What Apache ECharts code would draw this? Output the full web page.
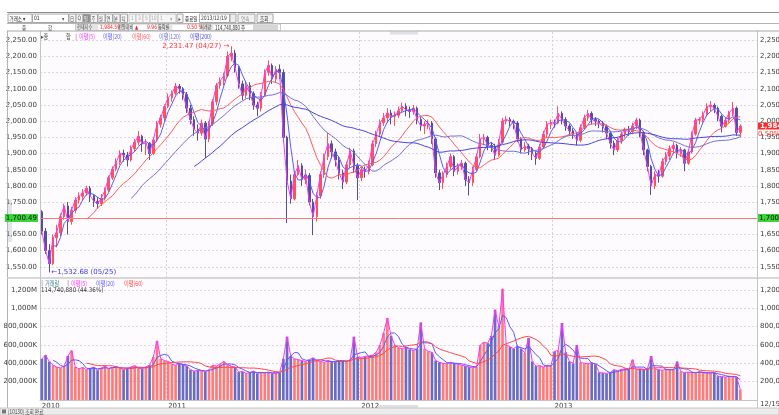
<!DOCTYPE html>
<html>
<head>
<meta charset="utf-8">
<title>KOSPI 주봉</title>
<script src="https://cdn.jsdelivr.net/npm/echarts@6/dist/echarts.min.js"></script>
<style>
  html, body { margin: 0; padding: 0; background: #fff; }
  #chart { width: 779px; height: 415px; }
</style>
</head>
<body>
<div id="chart"></div>
<script>
  // one row per week: [open, close, low, high]
  const candles = [
    [1720,1660,1650,1725],[1660,1600,1590,1670],[1600,1560,1532.68,1620],[1560,1640,1555,1650],[1640,1655,1610,1680],
    [1655,1705,1645,1715],[1705,1738,1695,1745],[1738,1690,1650,1750],[1690,1725,1680,1735],[1725,1756,1715,1765],
    [1756,1768,1745,1780],[1768,1778,1755,1790],[1778,1793,1770,1800],[1793,1770,1750,1800],[1770,1752,1735,1775],
    [1752,1745,1730,1765],[1745,1762,1738,1775],[1762,1787,1755,1795],[1787,1825,1780,1832],[1825,1852,1818,1860],
    [1852,1872,1845,1885],[1872,1901,1865,1910],[1901,1895,1875,1912],[1895,1880,1860,1905],[1880,1915,1875,1925],
    [1915,1935,1905,1945],[1935,1953,1925,1969],[1953,1930,1905,1958],[1930,1932,1895,1945],[1932,1900,1880,1935],
    [1900,1942,1895,1950],[1942,1990,1935,2000],[1990,2010,1980,2020],[2010,2045,2000,2052],[2045,2072,2040,2085],
    [2072,2086,2060,2095],[2086,2108,2080,2118],[2108,2100,2085,2115],[2100,2082,2065,2105],[2082,2040,2025,2090],
    [2040,2005,1990,2050],[2005,1975,1955,2015],[1975,1963,1940,1990],[1963,1994,1955,2005],[1994,1945,1886,2000],
    [1945,1992,1935,2000],[1992,2060,1985,2068],[2060,2110,2050,2118],[2110,2125,2100,2135],[2125,2140,2110,2150],
    [2140,2200,2135,2215],[2200,2210,2185,2231.47],[2210,2165,2150,2220],[2165,2115,2100,2170],[2115,2080,2065,2125],
    [2080,2110,2070,2125],[2110,2085,2065,2120],[2085,2050,2035,2092],[2050,2040,2015,2060],[2040,2080,2030,2090],
    [2080,2150,2075,2160],[2150,2172,2140,2188],[2172,2130,2115,2178],[2130,2160,2120,2170],[2160,2150,2130,2175],
    [2150,1950,1935,2160],[1950,1815,1685,1955],[1815,1760,1745,1835],[1760,1835,1755,1845],[1835,1862,1830,1880],
    [1862,1820,1800,1870],[1820,1832,1805,1850],[1832,1750,1740,1840],[1750,1705,1648,1760],[1705,1770,1690,1780],
    [1770,1835,1760,1845],[1835,1890,1825,1900],[1890,1930,1880,1963],[1930,1905,1885,1940],[1905,1880,1860,1915],
    [1880,1840,1820,1890],[1840,1812,1790,1850],[1812,1865,1805,1875],[1865,1908,1855,1918],[1908,1862,1840,1915],
    [1862,1825,1756,1870],[1825,1850,1815,1862],[1850,1845,1825,1860],[1845,1865,1835,1878],[1865,1930,1860,1940],
    [1930,1960,1920,1970],[1960,1995,1950,2005],[1995,2010,1985,2025],[2010,2025,1995,2040],[2025,2015,1990,2035],
    [2015,2018,1985,2030],[2018,2032,2010,2045],[2032,2046,2025,2057],[2046,2034,2015,2055],[2034,2030,2010,2045],
    [2030,2040,2020,2050],[2040,2005,1990,2045],[2005,1985,1970,2012],[1985,1990,1960,2000],[1990,1994,1975,2005],
    [1994,1945,1930,2000],[1945,1840,1825,1950],[1840,1810,1787,1850],[1810,1835,1790,1845],[1835,1860,1825,1872],
    [1860,1890,1850,1900],[1890,1845,1830,1895],[1845,1860,1835,1870],[1860,1870,1850,1880],[1870,1820,1800,1875],
    [1820,1810,1770,1830],[1810,1850,1800,1860],[1850,1890,1845,1900],[1890,1945,1885,1960],[1945,1950,1925,1960],
    [1950,1925,1910,1955],[1925,1920,1905,1935],[1920,1895,1880,1930],[1895,1935,1890,1945],[1935,2000,1930,2010],
    [2000,2005,1990,2015],[2005,2000,1985,2012],[2000,1994,1975,2005],[1994,1945,1935,2000],[1945,1911,1900,1950],
    [1911,1923,1905,1935],[1923,1915,1895,1930],[1915,1900,1880,1920],[1900,1885,1865,1905],[1885,1920,1880,1930],
    [1920,1960,1915,1970],[1960,1990,1950,2000],[1990,1995,1975,2005],[1995,1994,1980,2005],[1994,2024,1990,2046],
    [2024,2005,1990,2030],[2005,1985,1970,2012],[1985,1970,1955,1992],[1970,1960,1945,1978],[1960,1941,1925,1965],
    [1941,1980,1935,1990],[1980,2010,1975,2020],[2010,2024,2000,2035],[2024,2005,1990,2030],[2005,2000,1985,2012],
    [2000,1994,1978,2005],[1994,1984,1965,2000],[1984,1963,1945,1990],[1963,1932,1915,1970],[1932,1911,1895,1940],
    [1911,1940,1905,1950],[1940,1960,1930,1968],[1960,1972,1950,1980],[1972,1968,1955,1985],[1968,1985,1960,1995],
    [1985,2003,1975,2010],[2003,1965,1950,2008],[1965,1911,1895,1970],[1911,1860,1845,1915],[1860,1800,1772,1865],
    [1800,1835,1790,1845],[1835,1830,1810,1850],[1830,1875,1825,1885],[1875,1892,1865,1905],[1892,1915,1880,1925],
    [1915,1925,1900,1935],[1925,1901,1885,1930],[1901,1911,1890,1920],[1911,1870,1845,1915],[1870,1905,1865,1912],
    [1905,1960,1900,1968],[1960,2003,1955,2010],[2003,2005,1990,2012],[2005,2020,1995,2030],[2020,2045,2015,2055],
    [2045,2049,2030,2062],[2049,2040,2025,2055],[2040,2015,2000,2045],[2015,1984,1965,2020],[1984,2003,1980,2010],
    [2003,2025,1995,2032],[2025,2040,2015,2059],[2040,1965,1955,2045],[1965,1984.59,1950,1990]
  ];

  // 거래량 (천주)
  const volumes = [
    450000,490000,420000,380000,360000, 350000,370000,480000,540000,360000,
    340000,355000,330000,345000,360000, 325000,350000,370000,340000,355000,
    365000,350000,330000,345000,360000, 375000,350000,340000,360000,380000,
    470000,645000,450000,430000,420000, 390000,380000,400000,385000,370000,
    330000,315000,325000,320000,310000, 330000,380000,370000,395000,420000,
    385000,370000,360000,305000,310000, 290000,300000,315000,290000,300000,
    295000,305000,290000,295000,300000, 450000,690000,480000,450000,440000,
    430000,420000,440000,460000,430000, 420000,410000,430000,420000,415000,
    425000,430000,420000,440000,690000, 470000,465000,475000,480000,490000,
    520000,600000,730000,895000,700000, 600000,570000,560000,575000,550000,
    540000,555000,845000,560000,530000, 520000,430000,410000,400000,395000,
    410000,400000,390000,380000,370000, 360000,355000,360000,600000,630000,
    620000,700000,985000,800000,1213000, 600000,580000,560000,590000,560000,
    513000,677000,420000,370000,375000, 360000,380000,370000,530000,540000,
    840000,520000,420000,400000,600000, 410000,400000,395000,405000,390000,
    300000,295000,290000,300000,330000, 320000,335000,340000,330000,440000,
    325000,340000,335000,340000,480000, 340000,330000,325000,335000,330000,
    330000,420000,310000,300000,305000, 300000,295000,310000,300000,290000,
    295000,300000,260000,255000,250000, 260000,255000,250000,114741
  ];

  const firstFriday = '2010-05-14';
  const emptyWeeks = 4;
  const baseLine = 1700.49;
  const lastClose = 1984.59;
  const highNote = '2,231.47 (04/27) →';
  const lowNote = '←1,532.68 (05/25)';
  const lastDate = '12/19';
  const priceMA = [['이평(5)', 1, '#ff33ff'], ['이평(20)', 4, '#5a5aff'], ['이평(60)', 13, '#ff5c5c'], ['이평(120)', 25, '#7272d6'], ['이평(200)', 42, '#4646e0']];
  const volMA = [['이평(5)', 1, '#ff33ff'], ['이평(20)', 4, '#5a5aff'], ['이평(60)', 13, '#ff4848']];

  const weeks = [];
  const t0 = new Date(firstFriday + 'T00:00:00Z').getTime();
  for (let i = 0; i < candles.length + emptyWeeks; i++) {
    weeks.push(new Date(t0 + i * 7 * 86400000).toISOString().slice(0, 10));
  }
  const yearStart = (i) => i < candles.length && (i === 0 || weeks[i].slice(0, 4) !== weeks[i - 1].slice(0, 4));

  function movingAvg(vals, n) {
    return vals.map((v, i) => {
      if (i < n - 1) return '-';
      let s = 0;
      for (let k = i - n + 1; k <= i; k++) s += vals[k];
      return +(s / n).toFixed(2);
    });
  }
  const closes = candles.map(c => c[1]);
  const highs = candles.map(c => c[3]);
  const lows = candles.map(c => c[2]);
  const highIdx = highs.indexOf(Math.max(...highs));
  const lowIdx = lows.indexOf(Math.min(...lows));

  const UP = '#ff5252', DOWN = '#50509e';
  const NUM = '"DejaVu Sans", sans-serif';
  const KR = '"Noto Sans CJK KR", "DejaVu Sans", sans-serif';
  const HIDDEN = 'rgba(0,0,0,0)';

  const priceLabel = v => (v < 1550 || v > 2250) ? '' : v.toLocaleString('en-US', { minimumFractionDigits: 2 });
  const volLabel = v => (v <= 0 || v > 1200000) ? '' :
    v >= 1000000 ? (v / 1000).toLocaleString('en-US') + 'M' : v.toLocaleString('en-US') + 'K';

  // small helpers for the HTS frame around the chart
  function txt(x, y, s, fill, size, font, sx) {
    return { type: 'text', x: x, y: y, z: 100, scaleX: sx || 1,
      style: { text: s, fill: fill || '#333', font: (size || 6.5) + 'px ' + (font || KR), verticalAlign: 'middle' } };
  }
  function box(x, y, w, h, fill, stroke, z) {
    return { type: 'rect', z: z === undefined ? 99 : z, shape: { x: x, y: y, width: w, height: h },
      style: { fill: fill || '#fff', stroke: stroke || '#a8a8a8', lineWidth: stroke === 'none' ? 0 : 1 } };
  }
  function hline(x1, x2, y, color, w) {
    return { type: 'line', z: 100, shape: { x1: x1, y1: y, x2: x2, y2: y }, style: { stroke: color, lineWidth: w || 1 } };
  }
  function vline(x, y1, y2, color) {
    return { type: 'line', z: 1, shape: { x1: x, y1: y1, x2: x, y2: y2 }, style: { stroke: color, lineWidth: 1 } };
  }
  const H = 0.75; // header text squeeze

  const ui = [
    box(0, 0, 779, 31, '#fff', 'none'),
    hline(7, 779, 12.5, '#8f8f8f'),
    hline(7, 779, 23.5, '#b4b4b4'),
    hline(7, 779, 31, '#a8a8a8', 1.2),
    box(8, 14, 24, 8.5), txt(9.5, 18.5, '거래소 ▾', '#333', 6, KR, H),
    box(32.5, 14, 36, 8.5), txt(34, 18.5, '01', '#333', 6, NUM, H), txt(62, 18.5, '▾', '#555', 6, KR, H),
    box(69, 14, 7, 8.5, '#f4f4f4'), txt(70, 18.5, '日', '#555', 5.5, KR, H),
    box(76, 14, 7, 8.5, '#f4f4f4'), txt(77.5, 18.5, 'Q', '#555', 6, NUM, H),
    box(83, 14, 7, 8.5, '#8c8c8c'), txt(84, 18.5, '일', '#fff', 5.5, KR, H),
    box(90.5, 14, 7, 8.5, '#f4f4f4'), txt(91.5, 18.5, '주', '#555', 5.5, KR, H),
    box(98, 14, 7, 8.5, '#f4f4f4'), txt(99, 18.5, '월', '#555', 5.5, KR, H),
    box(105.5, 14, 7, 8.5, '#f4f4f4'), txt(106.5, 18.5, '연', '#555', 5.5, KR, H),
    box(113, 14, 7, 8.5, '#f4f4f4'), txt(114, 18.5, '분', '#555', 5.5, KR, H),
    box(120.5, 14, 7, 8.5, '#f4f4f4'), txt(121.5, 18.5, '틱', '#555', 5.5, KR, H),
    box(129, 14, 7, 8.5, '#f6f6f6', '#c4c4c4'), txt(131, 18.5, '1', '#aaa', 6, NUM, H),
    box(136, 14, 7, 8.5, '#f6f6f6', '#c4c4c4'), txt(138, 18.5, '3', '#aaa', 6, NUM, H),
    box(143, 14, 7, 8.5, '#f6f6f6', '#c4c4c4'), txt(145, 18.5, '5', '#aaa', 6, NUM, H),
    box(150, 14, 8, 8.5, '#f6f6f6', '#c4c4c4'), txt(151, 18.5, '10', '#aaa', 6, NUM, H),
    box(158, 14, 18, 8.5, '#f6f6f6', '#c4c4c4'), txt(160, 18.5, '1', '#aaa', 6, NUM, H), txt(170, 18.5, '▾', '#aaa', 6, KR, H),
    box(177, 14, 6, 8.5, '#f4f4f4'), txt(178.5, 18.5, '▸', '#555', 6, KR, H),
    txt(185, 18.5, '종료일', '#333', 6, KR, H),
    box(199.5, 14, 30, 8.5), txt(201, 18.5, '2013/12/19', '#333', 6, NUM, H),
    box(230, 14, 6, 8.5, '#eee'),
    box(238, 14, 17, 8.5, '#f2f2f2'), txt(241, 18.5, '연속', '#999', 6, KR, H),
    box(257, 14, 16, 8.5, '#f2f2f2'), txt(260, 18.5, '조회', '#333', 6, KR, H),
    txt(22, 27.3, '종', '#555', 6, KR, H), txt(48, 27.3, '합', '#555', 6, KR, H),
    box(75.5, 24, 205, 6.5, '#fff', '#c8c8c8'),
    box(76, 24.3, 22, 6, '#e4e4e4', 'none'), txt(77, 27.3, '현재지수', '#444', 5.5, KR, H),
    txt(100, 27.3, '1,984.59', '#ee2222', 6, NUM, H),
    box(117.5, 24.3, 15, 6, '#e4e4e4', 'none'), txt(118, 27.3, '전일대비', '#444', 5.5, KR, H),
    txt(135, 27.3, '▲', '#ee2222', 5.5, NUM, H), txt(147, 27.3, '9.96', '#ee2222', 6, NUM, H),
    box(157.5, 24.3, 15, 6, '#e4e4e4', 'none'), txt(158, 27.3, '등락률', '#444', 5.5, KR, H),
    txt(187, 27.3, '0.50 %', '#ee2222', 6, NUM, H),
    box(199.5, 24.3, 14, 6, '#e4e4e4', 'none'), txt(200, 27.3, '거래량', '#444', 5.5, KR, H),
    txt(215, 27.3, '114,740,880 주', '#333', 6, KR, H),
    box(253, 24.5, 25, 5.5, '#d6d6d6', 'none'),
    box(390, 31.5, 28, 3, '#dde1e6', 'none'),
    // price legend
    txt(41, 37, '▸종', '#555', 6.5, KR, 0.8), txt(66, 37, '합', '#555', 6.5, KR, 0.8), txt(75, 37, '|', '#888', 6.5, NUM),
    txt(79, 37, priceMA[0][0], priceMA[0][2], 6.5, KR, 0.8), txt(103, 37, priceMA[1][0], priceMA[1][2], 6.5, KR, 0.8),
    txt(132, 37, priceMA[2][0], priceMA[2][2], 6.5, KR, 0.8), txt(159, 37, priceMA[3][0], priceMA[3][2], 6.5, KR, 0.8),
    txt(190, 37, priceMA[4][0], priceMA[4][2], 6.5, KR, 0.8),
    // panel separator and volume legend
    hline(7, 779, 278, '#cbcbcb', 1.5),
    txt(41, 283.5, '|', '#888', 6.5, NUM), txt(45, 283.5, '거래량', '#3f8f8f', 6.5, KR, 0.8), txt(67, 283.5, '|', '#888', 6.5, NUM),
    txt(71, 283.5, volMA[0][0], volMA[0][2], 6.5, KR, 0.8), txt(96, 283.5, volMA[1][0], volMA[1][2], 6.5, KR, 0.8),
    txt(124, 283.5, volMA[2][0], volMA[2][2], 6.5, KR, 0.8),
    txt(41, 290.5, '114,740,880 (44.36%)', '#333', 6.5, NUM, 0.85),
    // frame
    vline(7.5, 12, 408, '#b4b4b4'),
    box(8, 200, 4, 42, '#e2e5ea', 'none', 0),
    vline(757.5, 400, 408, '#c4c4c4'),
    txt(760, 404.5, lastDate, '#444', 7, NUM),
    box(378, 405, 40, 3, '#dde1e6', 'none'),
    box(0, 408, 779, 7, '#ececec', '#c8c8c8'),
    box(2, 409.5, 4, 4, '#777', 'none'),
    txt(8, 411.8, '[10130] 조회 완료', '#444', 5.5, KR, 0.85)
  ];

  const axisNum = { fontFamily: NUM, fontSize: 7, color: '#3a3a3a' };
  const gridLine = { color: '#d9d9d9', type: [2, 2], width: 1 };
  const yearLine = { show: true, interval: (i) => i > 0 && yearStart(i), lineStyle: { color: '#d2d2d2', type: [2, 2] } };
  const tagGreen = { show: true, formatter: '1,700.49', backgroundColor: '#3bd43b', color: '#111', padding: [1, 1, 0, 1], fontSize: 7, fontFamily: NUM };

  const series = [{
    name: '종합', type: 'candlestick', xAxisIndex: 0, yAxisIndex: 0,
    data: candles, barWidth: 2,
    itemStyle: { color: UP, color0: DOWN, borderColor: UP, borderColor0: DOWN, borderWidth: 1 },
    markPoint: {
      silent: true, symbol: 'circle', symbolSize: 2, itemStyle: { color: HIDDEN },
      data: [
        { coord: [highIdx, highs[highIdx]], label: { show: true, position: 'left', distance: 1, formatter: highNote, color: '#ff3535', fontSize: 7, fontFamily: NUM } },
        { coord: [lowIdx, lows[lowIdx]], label: { show: true, position: 'right', distance: 1, formatter: lowNote, color: '#3c3cd6', fontSize: 7, fontFamily: NUM } }
      ]
    },
    markLine: {
      silent: true, symbol: 'none', animation: false,
      data: [
        { yAxis: baseLine, lineStyle: { color: '#ff7474', width: 1, type: 'solid' },
          label: Object.assign({ position: 'start', distance: 2 }, tagGreen) },
        { yAxis: baseLine, lineStyle: { color: HIDDEN, width: 1 },
          label: Object.assign({ position: 'end', distance: 1 }, tagGreen) },
        { yAxis: lastClose, lineStyle: { color: HIDDEN, width: 1 },
          label: { show: true, position: 'end', distance: 1, formatter: '{e| }\n{a|1,984.59}\n{b|0.50%}',
            rich: {
              e: { fontSize: 7, lineHeight: 8 },
              a: { fontSize: 7, lineHeight: 8, fontFamily: NUM, color: '#fff', fontWeight: 'bold', backgroundColor: '#ff2b2b', padding: [0, 2] },
              b: { fontSize: 7, lineHeight: 8, fontFamily: NUM, color: '#ff3030' }
            } } }
      ]
    }
  }];
  priceMA.forEach(([name, n, color]) => series.push({
    name: name, type: 'line', xAxisIndex: 0, yAxisIndex: 0, data: movingAvg(closes, n),
    symbol: 'none', lineStyle: { color: color, width: 1 }, silent: true
  }));
  series.push({
    name: '거래량', type: 'bar', xAxisIndex: 1, yAxisIndex: 2, data: volumes, barWidth: '72%',
    itemStyle: { color: p => candles[p.dataIndex][1] >= candles[p.dataIndex][0] ? '#ff7a7a' : '#6b6bc2' }
  });
  volMA.forEach(([name, n, color]) => series.push({
    name: 'v' + name, type: 'line', xAxisIndex: 1, yAxisIndex: 2, data: movingAvg(volumes, n),
    symbol: 'none', lineStyle: { color: color, width: 1 }, silent: true
  }));

  const chart = echarts.init(document.getElementById('chart'));
  chart.setOption({
    animation: false,
    backgroundColor: '#ffffff',
    textStyle: { fontFamily: NUM },
    grid: [
      { left: 40, right: 22, top: 24, height: 259, outerBoundsMode: 'none', containLabel: false, show: true, backgroundColor: '#fdfbfe', borderWidth: 0 },
      { left: 40, right: 22, top: 271.67, height: 128.33, outerBoundsMode: 'none', containLabel: false, show: true, backgroundColor: '#fdfbfe', borderWidth: 0 }
    ],
    xAxis: [
      { type: 'category', gridIndex: 0, data: weeks, boundaryGap: true,
        axisLine: { show: false }, axisTick: { show: false }, axisLabel: { show: false }, splitLine: yearLine },
      { type: 'category', gridIndex: 1, data: weeks, boundaryGap: true,
        axisLine: { show: true, lineStyle: { color: '#c4c4c4' } }, axisTick: { show: false },
        axisLabel: Object.assign({ interval: (i) => yearStart(i), formatter: v => v.slice(0, 4), align: 'left', margin: 3 }, axisNum),
        splitLine: yearLine }
    ],
    yAxis: [
      { type: 'value', gridIndex: 0, position: 'left', min: 1500, max: 2300, interval: 50,
        axisLine: { show: true, lineStyle: { color: '#c4c4c4' } }, axisTick: { show: false },
        axisLabel: Object.assign({ formatter: priceLabel, margin: 3 }, axisNum),
        splitLine: { show: true, showMinLine: false, showMaxLine: false, lineStyle: gridLine } },
      { type: 'value', gridIndex: 0, position: 'right', min: 1500, max: 2300, interval: 50,
        axisLine: { show: true, lineStyle: { color: '#c4c4c4' } }, axisTick: { show: false },
        axisLabel: Object.assign({ formatter: priceLabel, margin: 3 }, axisNum), splitLine: { show: false } },
      { type: 'value', gridIndex: 1, position: 'left', min: 0, max: 1400000, interval: 200000,
        axisLine: { show: true, lineStyle: { color: '#c4c4c4' } }, axisTick: { show: false },
        axisLabel: Object.assign({ formatter: volLabel, margin: 3 }, axisNum),
        splitLine: { show: true, showMinLine: false, showMaxLine: false, lineStyle: gridLine } },
      { type: 'value', gridIndex: 1, position: 'right', min: 0, max: 1400000, interval: 200000,
        axisLine: { show: true, lineStyle: { color: '#c4c4c4' } }, axisTick: { show: false },
        axisLabel: Object.assign({ formatter: volLabel, margin: 3 }, axisNum), splitLine: { show: false } }
    ],
    graphic: { elements: ui },
    series: series
  });
</script>
</body>
</html>
